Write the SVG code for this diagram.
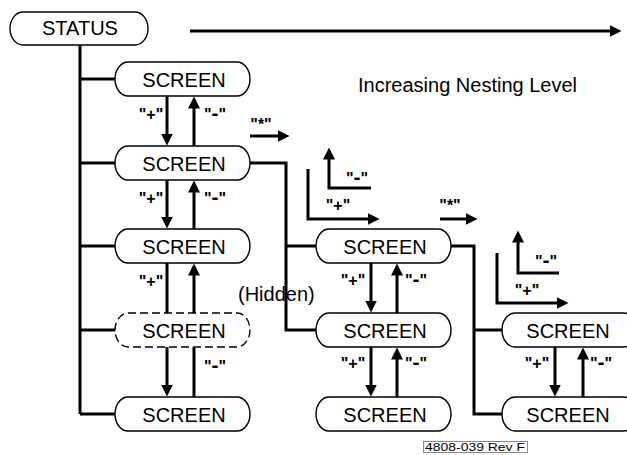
<svg xmlns="http://www.w3.org/2000/svg" width="627" height="455" viewBox="0 0 627 455">
<style>
.pill{fill:#fff;stroke:#000;stroke-width:1.4}
.dash{stroke-dasharray:8 4}
.t{font-family:"Liberation Sans",Arial,sans-serif;font-size:20px;fill:#000}
.c{text-anchor:middle}
.lb{font-family:"Liberation Sans",Arial,sans-serif;font-size:16px;font-weight:bold;fill:#000;text-anchor:middle}
.m{font-size:21px}
.ln{fill:none;stroke:#000;stroke-width:3}
.ar{fill:none;stroke:#000;stroke-width:3;marker-end:url(#ah)}
.ft{font-family:"Liberation Sans",Arial,sans-serif;font-size:11px;fill:#000}
</style>
<defs>
<marker id="ah" viewBox="0 0 12 12" refX="0.5" refY="6" markerWidth="12" markerHeight="12" markerUnits="userSpaceOnUse" orient="auto">
<path d="M0,0 L12,6 L0,12 z" fill="#000"/>
</marker>
</defs>
<rect width="627" height="455" fill="#fff"/>
<g id="connectors">
<path class="ar" d="M190,31 H610"/>
<path class="ln" d="M80,45 V414 M80,79 H115 M80,163 H115 M80,246 H115 M80,330 H115 M80,414 H115"/>
<path class="ar" d="M167,96 V134"/>
<path class="ar" d="M194,146 V108"/>
<path class="ar" d="M167,180 V217"/>
<path class="ar" d="M194,229 V192"/>
<path class="ln" d="M167,263 V313"/>
<path class="ar" d="M194,313 V275"/>
<path class="ar" d="M167,347 V385"/>
<path class="ln" d="M194,397 V347"/>
<path class="ar" d="M250,136 H278"/>
<path class="ln" d="M250,163 H286 V330 H316 M286,246 H316"/>
<path class="ar" d="M308,169 V219 H368"/>
<path class="ar" d="M371,188 H329 V159"/>
<path class="ar" d="M371,263 V301"/>
<path class="ar" d="M397,313 V275"/>
<path class="ar" d="M371,347 V385"/>
<path class="ar" d="M397,397 V359"/>
<path class="ar" d="M440,219 H466"/>
<path class="ln" d="M451,246 H474 V414 H502 M474,330 H502"/>
<path class="ar" d="M497,253 V303 H557"/>
<path class="ar" d="M559,273 H518 V242"/>
<path class="ar" d="M555,347 V385"/>
<path class="ar" d="M583,397 V359"/>
</g>
<g id="labels">
<text class="lb" x="151" y="120">"+"</text>
<text class="lb" x="215" y="120">"<tspan class="m">-</tspan>"</text>
<text class="lb" x="151" y="204">"+"</text>
<text class="lb" x="215" y="204">"<tspan class="m">-</tspan>"</text>
<text class="lb" x="151" y="287">"+"</text>
<text class="lb" x="215" y="372">"<tspan class="m">-</tspan>"</text>
<text class="lb" x="261" y="130">"*"</text>
<text class="lb" x="338" y="211">"+"</text>
<text class="lb" x="357" y="184">"<tspan class="m">-</tspan>"</text>
<text class="lb" x="450" y="211">"*"</text>
<text class="lb" x="353" y="286">"+"</text>
<text class="lb" x="416" y="286">"<tspan class="m">-</tspan>"</text>
<text class="lb" x="353" y="369">"+"</text>
<text class="lb" x="416" y="369">"<tspan class="m">-</tspan>"</text>
<text class="lb" x="527" y="296">"+"</text>
<text class="lb" x="546" y="267">"<tspan class="m">-</tspan>"</text>
<text class="lb" x="537" y="369">"+"</text>
<text class="lb" x="601" y="369">"<tspan class="m">-</tspan>"</text>
<text class="t" x="358" y="92">Increasing Nesting Level</text>
<text class="t" x="238" y="301" font-size="19">(Hidden)</text>
</g>
<g id="status"><rect class="pill" x="10" y="12" width="138" height="33" rx="13" ry="16.5"/><text class="t c" x="80" y="35">STATUS</text></g>
<g id="screen1"><rect class="pill" x="115" y="62" width="135" height="34" rx="13" ry="17"/><text class="t c" x="184" y="87">SCREEN</text></g>
<g id="screen2"><rect class="pill" x="115" y="146" width="135" height="34" rx="13" ry="17"/><text class="t c" x="184" y="171">SCREEN</text></g>
<g id="screen3"><rect class="pill" x="115" y="229" width="135" height="34" rx="13" ry="17"/><text class="t c" x="184" y="254">SCREEN</text></g>
<g id="screen4"><rect class="pill dash" x="115" y="313" width="135" height="34" rx="13" ry="17"/><text class="t c" x="184" y="338">SCREEN</text></g>
<g id="screen5"><rect class="pill" x="115" y="397" width="135" height="34" rx="13" ry="17"/><text class="t c" x="184" y="422">SCREEN</text></g>
<g id="screen6"><rect class="pill" x="316" y="229" width="135" height="34" rx="13" ry="17"/><text class="t c" x="385" y="254">SCREEN</text></g>
<g id="screen7"><rect class="pill" x="316" y="313" width="135" height="34" rx="13" ry="17"/><text class="t c" x="385" y="338">SCREEN</text></g>
<g id="screen8"><rect class="pill" x="316" y="397" width="135" height="34" rx="13" ry="17"/><text class="t c" x="385" y="422">SCREEN</text></g>
<g id="screen9"><rect class="pill" x="502" y="313" width="135" height="34" rx="13" ry="17"/><text class="t c" x="568" y="338">SCREEN</text></g>
<g id="screen10"><rect class="pill" x="502" y="397" width="135" height="34" rx="13" ry="17"/><text class="t c" x="568" y="422">SCREEN</text></g>
<g id="footer"><rect x="423.5" y="441.5" width="104" height="11" fill="#fff" stroke="#888" stroke-width="1"/><text class="ft" x="425" y="451" textLength="100" lengthAdjust="spacingAndGlyphs">4808-039 Rev F</text></g>
</svg>
